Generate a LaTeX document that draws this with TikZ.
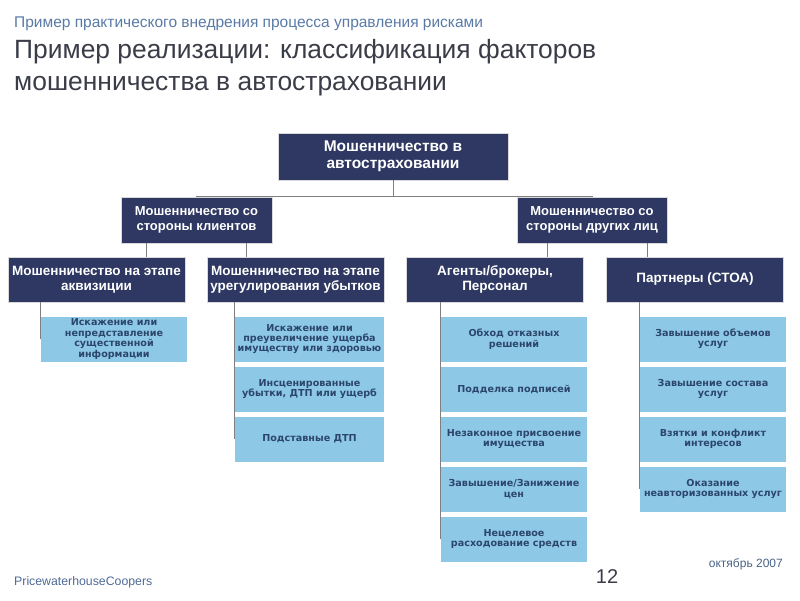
\documentclass[tikz,border=0pt]{standalone}
\usepackage{fontspec}
\setmainfont{Liberation Sans}
\newfontfamily\leaffont{DejaVu Sans}
\usetikzlibrary{positioning,shadows}
\definecolor{navy}{HTML}{2E3862}
\definecolor{sky}{HTML}{8DC9E6}
\definecolor{leaftext}{HTML}{2C466B}
\definecolor{headblue}{HTML}{5A7AA6}
\definecolor{titlegray}{HTML}{3A3C48}
\definecolor{linegray}{HTML}{7F7F7F}
\definecolor{footblue}{HTML}{4E6A98}
\begin{document}
\begin{tikzpicture}[x=1pt,y=-1pt,
  headbox/.style={fill=navy,draw=black!15,line width=0.6pt,text=white,align=center,inner sep=0pt,
    font=\bfseries\fontsize{13.5}{15}\selectfont,minimum height=45pt},
  leafbox/.style={fill=sky,text=leaftext,align=center,inner sep=0pt,
    font=\leaffont\bfseries\fontsize{9.6}{10.4}\selectfont,minimum width=146pt,minimum height=45pt},
  link/.style={draw=linegray,line width=0.8pt}]
\useasboundingbox (0,0) rectangle (800,600);

% titles
\node[anchor=base west,inner sep=0pt,text=headblue,font=\fontsize{15.5}{17}\selectfont] (sub) at (14,27)
  {Пример практического внедрения процесса управления рисками};
\node[anchor=north west,inner sep=0pt,align=left,text=titlegray,font=\fontsize{26.4}{32}\selectfont] (title) at (14,39)
  {Пример реализации: классификация факторов\\мошенничества в автостраховании};

% tree
\node[headbox,minimum width=230pt,minimum height=47pt,font=\bfseries\fontsize{15.5}{16.5}\selectfont] (root) at (393,156.5)
  {Мошенничество в\\автостраховании};
\node[headbox,minimum width=151pt,minimum height=46pt,font=\bfseries\fontsize{13}{14.5}\selectfont] (cli) at (196.5,220)
  {Мошенничество со\\стороны клиентов};
\node[headbox,minimum width=150pt,minimum height=46pt,font=\bfseries\fontsize{13}{14.5}\selectfont] (oth) at (592,220)
  {Мошенничество со\\стороны других лиц};

\node[headbox,minimum width=177pt] (akv) at (96.5,279.5) {Мошенничество на этапе\\аквизиции};
\node[headbox,minimum width=177pt] (urg) at (295.5,279.5) {Мошенничество на этапе\\урегулирования убытков};
\node[headbox,minimum width=177pt] (agt) at (495,279.5) {Агенты/брокеры,\\Персонал};
\node[headbox,minimum width=177pt] (prt) at (695,279.5) {Партнеры (СТОА)};

\draw[link] (root.south) -- ++(0,16) -| (cli.north);
\draw[link] (root.south) -- ++(0,16) -| (oth.north);
\draw[link] ([xshift=-50pt]cli.south) -- ([xshift=-50pt]cli.south |- akv.north);
\draw[link] ([xshift=50pt]cli.south) -- ([xshift=50pt]cli.south |- urg.north);
\draw[link] ([xshift=-45pt]oth.south) -- ([xshift=-45pt]oth.south |- agt.north);
\draw[link] ([xshift=55pt]oth.south) -- ([xshift=55pt]oth.south |- prt.north);

% leaves
\foreach \t [count=\i] in {{Искажение или\\непредставление\\существенной\\информации}}
  \node[leafbox] (akv\i) at (114,{289+50*\i}) {\t};
\foreach \t [count=\i] in {{Искажение или\\преувеличение ущерба\\имуществу или здоровью},
    {Инсценированные\\убытки, ДТП или ущерб},{Подставные ДТП}}
  \node[leafbox,minimum width=149pt] (urg\i) at (309.5,{289+50*\i}) {\t};
\foreach \t [count=\i] in {{Обход отказных\\решений},{Подделка подписей},{Незаконное присвоение\\имущества},
    {Завышение/Занижение\\цен},{Нецелевое\\расходование средств}}
  \node[leafbox] (agt\i) at (514,{289+50*\i}) {\t};
\foreach \t [count=\i] in {{Завышение объемов\\услуг},{Завышение состава\\услуг},{Взятки и конфликт\\интересов},
    {Оказание\\неавторизованных услуг}}
  \node[leafbox] (prt\i) at (713,{289+50*\i}) {\t};

\draw[link] (akv.south -| akv1.west) -- (akv1.west);
\draw[link] (urg.south -| urg1.west) -- (urg3.west);
\draw[link] (agt.south -| agt1.west) -- (agt5.west);
\draw[link] (prt.south -| prt1.west) -- (prt4.west);

% footer
\node[anchor=base west,inner sep=0pt,text=footblue,font=\fontsize{12.3}{14}\selectfont] (firm) at (14,585) {PricewaterhouseCoopers};
\node[anchor=base,inner sep=0pt,text=titlegray,font=\fontsize{20}{22}\selectfont] (page) at (607,583) {12};
\node[anchor=base east,inner sep=0pt,text=headblue!80!black,font=\fontsize{12}{13}\selectfont] (date) at (783,567) {октябрь 2007};
\end{tikzpicture}
\end{document}
